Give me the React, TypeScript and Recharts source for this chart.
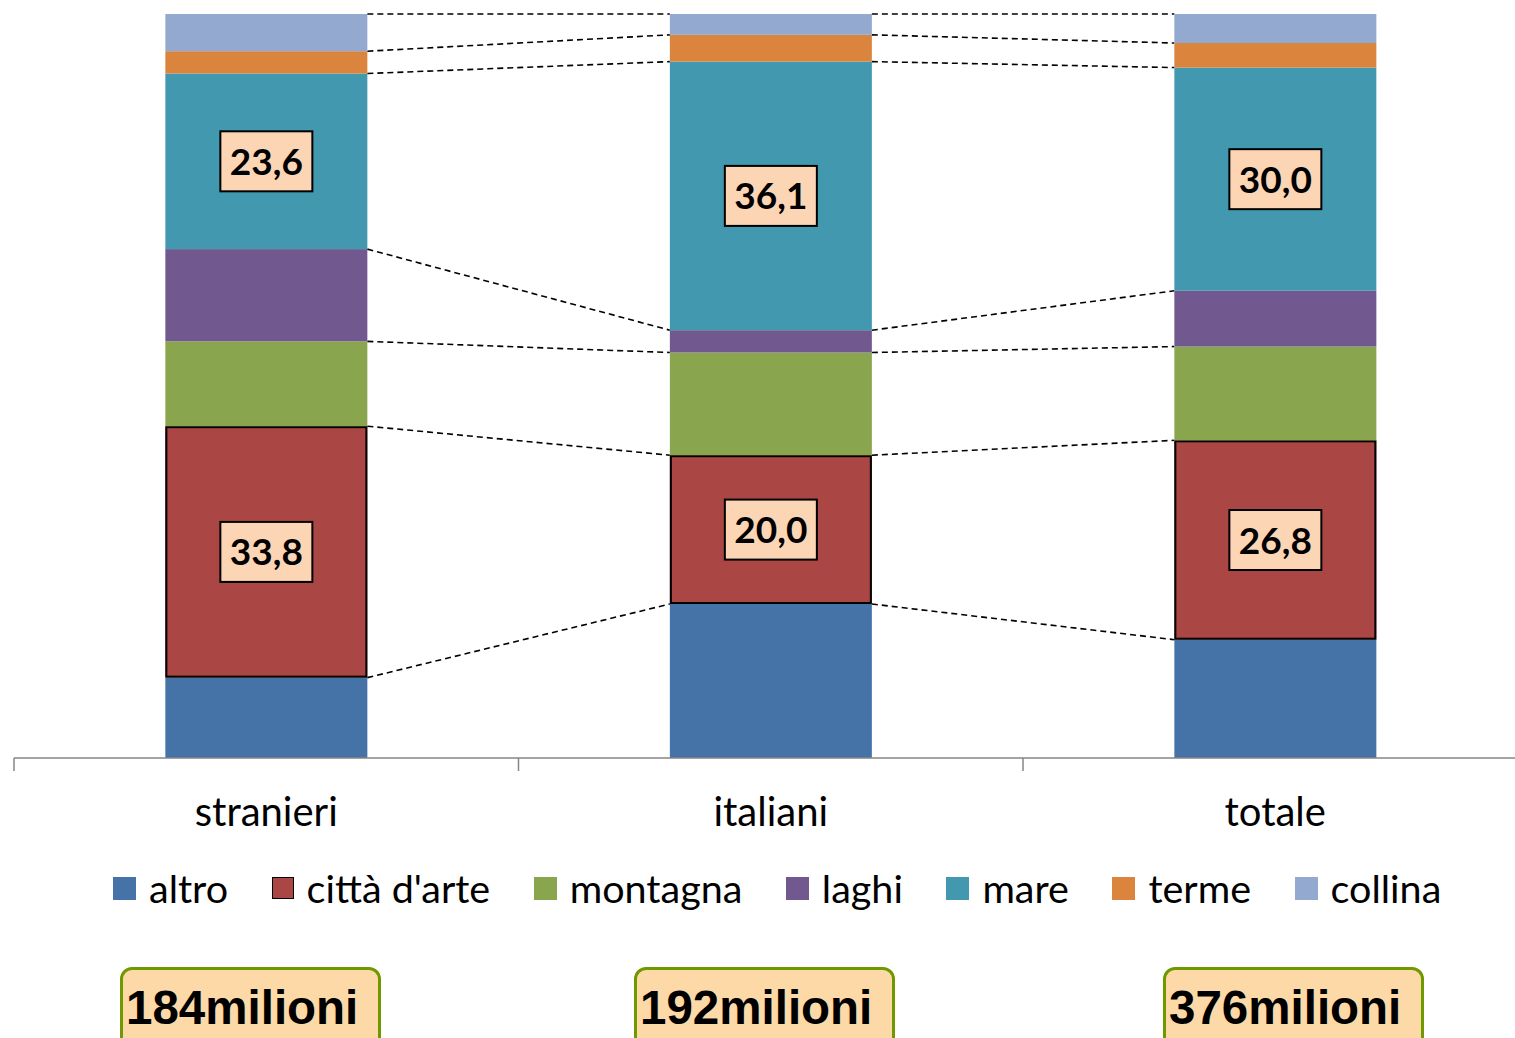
import React from 'react';
import { BarChart, Bar, XAxis, YAxis, LabelList } from 'recharts';

const categories = ['stranieri', 'italiani', 'totale'];
const altro = [10.8, 20.7, 15.9];
const cittaArte = [33.8, 20.0, 26.8];
const montagna = [11.4, 13.8, 12.6];
const laghi = [12.4, 3.0, 7.5];
const mare = [23.6, 36.1, 30.0];
const terme = [3.0, 3.6, 3.3];
const collina = [5.0, 2.8, 3.9];
const totals = ['184milioni', '192milioni', '376milioni'];

const series = [
  { key: 'altro', color: '#4572A7', values: altro, outlined: false, labelled: false },
  { key: "città d'arte", color: '#AA4643', values: cittaArte, outlined: true, labelled: true },
  { key: 'montagna', color: '#89A54E', values: montagna, outlined: false, labelled: false },
  { key: 'laghi', color: '#71588F', values: laghi, outlined: false, labelled: false },
  { key: 'mare', color: '#4198AF', values: mare, outlined: false, labelled: true },
  { key: 'terme', color: '#DB843D', values: terme, outlined: false, labelled: false },
  { key: 'collina', color: '#93A9CF', values: collina, outlined: false, labelled: false },
];

const data = categories.map((name, i) => {
  const row: Record<string, any> = { name };
  series.forEach((s) => (row[s.key] = s.values[i]));
  return row;
});

const CHART_W = 1541;
const CHART_H = 1038;
const AXIS_H = 30;
const MARGIN = { top: 14, left: 14, right: 13.5, bottom: 280 - AXIS_H };
const PLOT_TOP = MARGIN.top;
const PLOT_H = CHART_H - MARGIN.top - MARGIN.bottom - AXIS_H;
const PLOT_BOTTOM = PLOT_TOP + PLOT_H;
const PLOT_W = CHART_W - MARGIN.left - MARGIN.right;
const STEP = PLOT_W / categories.length;
const FONT = 'Lato, "DejaVu Sans", sans-serif';

const topFraction = (seriesIdx: number, catIdx: number) => {
  let cum = 0;
  let total = 0;
  series.forEach((s, j) => {
    total += s.values[catIdx];
    if (j <= seriesIdx) cum += s.values[catIdx];
  });
  return cum / total;
};

const makeShape = (seriesIdx: number, color: string, outlined: boolean) => (props: any) => {
  const { x, y, width, height, index } = props;
  const next = index + 1;
  let connector = null;
  if (next < categories.length) {
    const yNext = PLOT_TOP + PLOT_H * (1 - topFraction(seriesIdx, next));
    connector = (
      <line
        x1={x + width}
        y1={y}
        x2={x + STEP}
        y2={yNext}
        stroke="#000"
        strokeWidth={1.6}
        strokeDasharray="6 4"
      />
    );
  }
  return (
    <g>
      <rect x={x} y={y} width={width} height={height} fill={color} />
      {outlined && (
        <rect
          x={x + 1}
          y={y + 1}
          width={width - 2}
          height={height - 2}
          fill="none"
          stroke="#000"
          strokeWidth={2}
        />
      )}
      {connector}
    </g>
  );
};

const fmt = (v: number) => v.toFixed(1).replace('.', ',');

const boxLabel = (props: any) => {
  const { x, y, width, height, value } = props;
  const cx = x + width / 2;
  const cy = y + height / 2;
  return (
    <g>
      <rect x={cx - 46} y={cy - 30} width={92} height={60} fill="#FCD5B5" stroke="#000" strokeWidth={2} />
      <text
        x={cx}
        y={cy + 13.5}
        textAnchor="middle"
        fontWeight="bold"
        fontSize={37}
        fontFamily={FONT}
        fill="#000"
      >
        {fmt(value)}
      </text>
    </g>
  );
};

const CatTick = (props: any) => {
  const { x, payload } = props;
  const bx = x - STEP / 2;
  return (
    <g>
      <line x1={bx} x2={bx} y1={PLOT_BOTTOM} y2={PLOT_BOTTOM + 13} stroke="#868686" strokeWidth={1.5} />
      <text x={x} y={826} textAnchor="middle" fontSize={40} fontFamily={FONT} fill="#000">
        {payload.value}
      </text>
    </g>
  );
};

const totalLefts = [120, 634, 1163];

export default function App() {
  return (
    <div
      style={{
        position: 'absolute',
        left: 0,
        top: 0,
        width: 1515,
        height: 1038,
        overflow: 'hidden',
        background: '#fff',
      }}
    >
      <BarChart
        width={CHART_W}
        height={CHART_H}
        data={data}
        margin={MARGIN}
        stackOffset="expand"
        barCategoryGap="30%"
      >
        <XAxis
          dataKey="name"
          height={AXIS_H}
          interval={0}
          tickLine={false}
          axisLine={{ stroke: '#868686', strokeWidth: 1.5 }}
          tick={<CatTick />}
        />
        <YAxis hide domain={[0, 1]} />
        {series.map((s, i) => (
          <Bar
            key={s.key}
            dataKey={s.key}
            stackId="a"
            fill={s.color}
            isAnimationActive={false}
            shape={makeShape(i, s.color, s.outlined)}
          >
            {s.labelled && <LabelList dataKey={s.key} content={boxLabel} />}
          </Bar>
        ))}
      </BarChart>

      <div
        style={{
          position: 'absolute',
          left: 113,
          top: 864,
          display: 'flex',
          alignItems: 'center',
          gap: 43.5,
          fontFamily: FONT,
          fontSize: 39.5,
          lineHeight: '48px',
          whiteSpace: 'nowrap',
        }}
      >
        {series.map((s) => (
          <div key={s.key} style={{ display: 'flex', alignItems: 'center', gap: 13 }}>
            <span
              style={{
                display: 'inline-block',
                width: s.outlined ? 20 : 23,
                height: s.outlined ? 20 : 23,
                background: s.color,
                border: s.outlined ? '1.5px solid #000' : 'none',
              }}
            />
            <span>{s.key}</span>
          </div>
        ))}
      </div>

      {totals.map((t, i) => (
        <div
          key={t}
          style={{
            position: 'absolute',
            left: totalLefts[i],
            top: 967,
            width: 252,
            height: 80,
            border: '3px solid #6E9A00',
            borderRadius: 12,
            background: '#FDD9A8',
            boxSizing: 'content-box',
            fontFamily: '"Liberation Sans", Arial, sans-serif',
            fontWeight: 'bold',
            fontSize: 47.5,
            lineHeight: '54px',
            paddingTop: 11,
            paddingLeft: 3,
            whiteSpace: 'nowrap',
            color: '#000',
          }}
        >
          {t}
        </div>
      ))}
    </div>
  );
}
